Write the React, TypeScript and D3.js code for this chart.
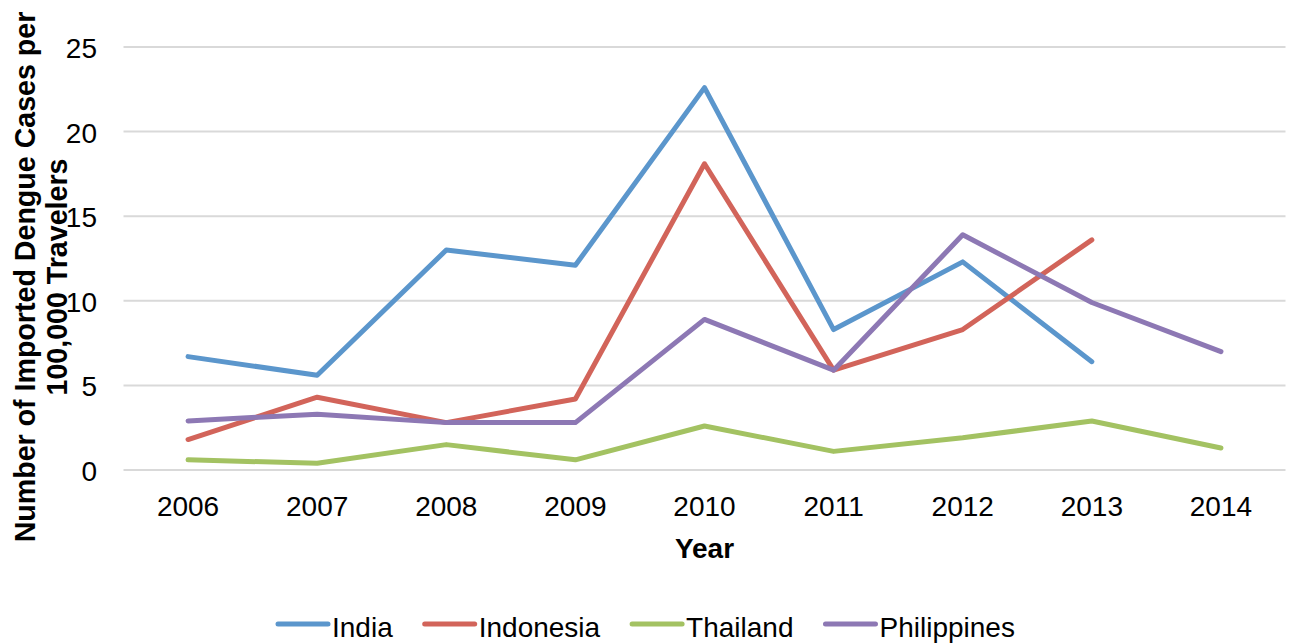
import React from "react";
import * as d3 from "d3";

// Imported dengue cases per 100,000 travelers, by country of travel
const years = ["2006", "2007", "2008", "2009", "2010", "2011", "2012", "2013", "2014"];
const india: (number | null)[] = [6.7, 5.6, 13.0, 12.1, 22.6, 8.3, 12.3, 6.4, null];
const indonesia: (number | null)[] = [1.8, 4.3, 2.8, 4.2, 18.1, 5.9, 8.3, 13.6, null];
const thailand: (number | null)[] = [0.6, 0.4, 1.5, 0.6, 2.6, 1.1, 1.9, 2.9, 1.3];
const philippines: (number | null)[] = [2.9, 3.3, 2.8, 2.8, 8.9, 5.9, 13.9, 9.9, 7.0];
const yTicks = [0, 5, 10, 15, 20, 25];

const seriesNames = ["India", "Indonesia", "Thailand", "Philippines"];
const seriesValues = [india, indonesia, thailand, philippines];
const seriesColors = ["#5b96cc", "#d2645a", "#a3c262", "#8d78b4"];

const W = 1291;
const H = 644;
const plot = { left: 123.5, right: 1285.5, top: 47, bottom: 470 };
const FONT = "Arial, 'Liberation Sans', sans-serif";

export default function App() {
  const x = d3.scaleBand<string>().domain(years).range([plot.left, plot.right]);
  const y = d3.scaleLinear().domain([0, 25]).range([plot.bottom, plot.top]);
  const cx = (yr: string) => (x(yr) ?? 0) + x.bandwidth() / 2;

  const line = d3
    .line<number | null>()
    .defined((d) => d !== null)
    .x((_, i) => cx(years[i]))
    .y((d) => y(d as number));

  // legend layout: swatch + label, laid out left to right
  const legendStart = 278;
  const swatchW = 50;
  const labelGap = 4;
  const itemGap = 32;
  const fontSize = 28;
  const measure = (s: string) => {
    const w: Record<string, number> = {
      I: 0.278, n: 0.556, d: 0.556, i: 0.222, a: 0.556, o: 0.556, e: 0.556,
      s: 0.5, T: 0.611, h: 0.556, l: 0.222, P: 0.667, p: 0.556,
    };
    return s.split("").reduce((acc, c) => acc + (w[c] ?? 0.556), 0) * fontSize;
  };
  let lx = legendStart;
  const legendItems = seriesNames.map((name, i) => {
    const item = { name, color: seriesColors[i], x: lx };
    lx += swatchW + labelGap + measure(name) + itemGap;
    return item;
  });

  const yTitleCenter = 277;
  const yTitleSize = 28.6;

  return (
    <svg width={W} height={H} style={{ position: "absolute", left: 0, top: 0, background: "#fff" }}>
      <rect width={W} height={H} fill="#fff" />
      {/* horizontal gridlines */}
      {yTicks.map((t) => (
        <line
          key={t}
          x1={plot.left}
          x2={plot.right}
          y1={y(t)}
          y2={y(t)}
          stroke="#d9d9d9"
          strokeWidth={2}
        />
      ))}
      {/* y tick labels */}
      {yTicks.map((t) => (
        <text
          key={"yl" + t}
          x={97}
          y={y(t) + 11}
          textAnchor="end"
          fontFamily={FONT}
          fontSize={fontSize}
          fill="#000"
        >
          {t}
        </text>
      ))}
      {/* x tick labels */}
      {years.map((yr) => (
        <text
          key={yr}
          x={cx(yr)}
          y={516}
          textAnchor="middle"
          fontFamily={FONT}
          fontSize={fontSize}
          fill="#000"
        >
          {yr}
        </text>
      ))}
      {/* axis titles */}
      <text
        x={(plot.left + plot.right) / 2}
        y={558}
        textAnchor="middle"
        fontFamily={FONT}
        fontSize={fontSize}
        fontWeight="bold"
        fill="#000"
      >
        Year
      </text>
      <g transform={`translate(0, ${yTitleCenter}) rotate(-90)`}>
        <text x={0} y={35} textAnchor="middle" fontFamily={FONT} fontSize={yTitleSize} fontWeight="bold" fill="#000">
          Number of Imported Dengue Cases per
        </text>
        <text x={0} y={67} textAnchor="middle" fontFamily={FONT} fontSize={yTitleSize} fontWeight="bold" fill="#000">
          100,000 Travelers
        </text>
      </g>
      {/* series lines */}
      {seriesValues.map((vals, i) => (
        <path
          key={seriesNames[i]}
          d={line(vals) ?? ""}
          fill="none"
          stroke={seriesColors[i]}
          strokeWidth={5}
          strokeLinejoin="round"
          strokeLinecap="round"
        />
      ))}
      {/* legend */}
      {legendItems.map((it) => (
        <g key={"lg" + it.name}>
          <line
            x1={it.x}
            x2={it.x + swatchW}
            y1={624}
            y2={624}
            stroke={it.color}
            strokeWidth={5}
            strokeLinecap="round"
          />
          <text
            x={it.x + swatchW + labelGap}
            y={637}
            fontFamily={FONT}
            fontSize={fontSize}
            fill="#000"
          >
            {it.name}
          </text>
        </g>
      ))}
    </svg>
  );
}
